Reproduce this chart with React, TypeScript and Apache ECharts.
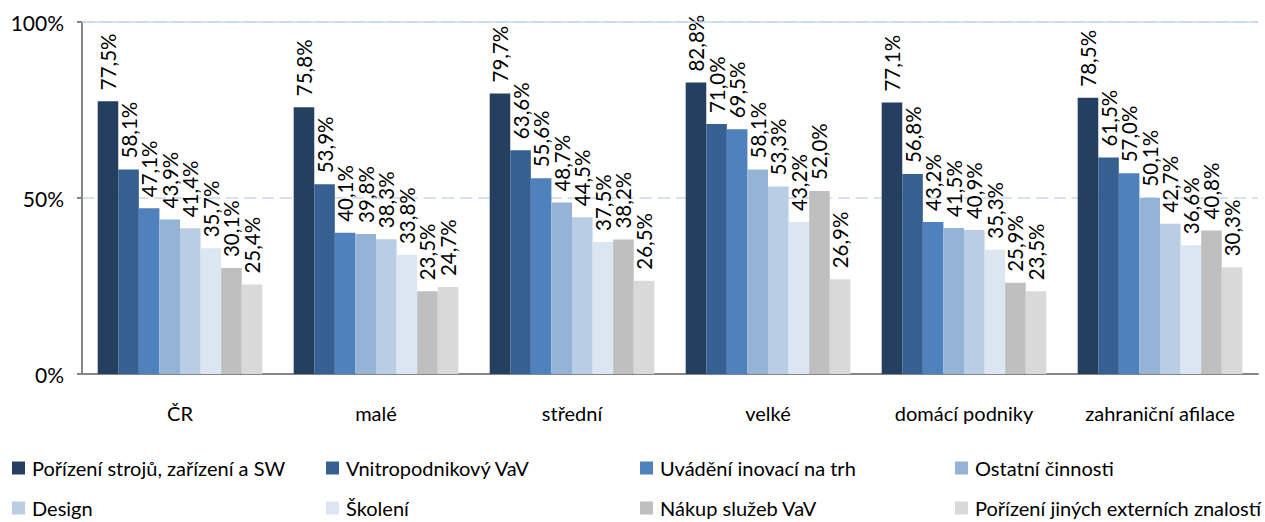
import React, { useEffect, useRef } from "react";
import * as echarts from "echarts";

const categories = ["ČR", "malé", "střední", "velké", "domácí podniky", "zahraniční afilace"];
const seriesNames = [
  "Pořízení strojů, zařízení a SW",
  "Vnitropodnikový VaV",
  "Uvádění inovací na trh",
  "Ostatní činnosti",
  "Design",
  "Školení",
  "Nákup služeb VaV",
  "Pořízení jiných externích znalostí",
];
const colors = ["#243f60", "#376092", "#4f81bd", "#95b3d7", "#b9cde5", "#dce6f2", "#bfbfbf", "#d9d9d9"];

const porizeniStroju = [77.5, 75.8, 79.7, 82.8, 77.1, 78.5];
const vnitropodnikovyVaV = [58.1, 53.9, 63.6, 71.0, 56.8, 61.5];
const uvadeniInovaci = [47.1, 40.1, 55.6, 69.5, 43.2, 57.0];
const ostatniCinnosti = [43.9, 39.8, 48.7, 58.1, 41.5, 50.1];
const design = [41.4, 38.3, 44.5, 53.3, 40.9, 42.7];
const skoleni = [35.7, 33.8, 37.5, 43.2, 35.3, 36.6];
const nakupSluzebVaV = [30.1, 23.5, 38.2, 52.0, 25.9, 40.8];
const porizeniZnalosti = [25.4, 24.7, 26.5, 26.9, 23.5, 30.3];

const seriesData = [
  porizeniStroju,
  vnitropodnikovyVaV,
  uvadeniInovaci,
  ostatniCinnosti,
  design,
  skoleni,
  nakupSluzebVaV,
  porizeniZnalosti,
];

const yTicks = [0, 50, 100];

const FONT = "Lato, 'Open Sans', sans-serif";

export default function App() {
  const ref = useRef<HTMLDivElement>(null);
  useEffect(() => {
    if (!ref.current) return;
    const chart = echarts.init(ref.current, undefined, { renderer: "svg" });
    const legendLefts = [12, 326, 640, 955];
    const legendTops = [457, 497];
    const legends = seriesNames.map((name, i) => ({
      data: [name],
      left: legendLefts[i % 4],
      top: legendTops[Math.floor(i / 4)],
      icon: "rect",
      itemWidth: 13,
      itemHeight: 13,
      padding: 0,
      textStyle: { fontFamily: FONT, fontSize: 20, lineHeight: 22, color: "#000", padding: [0, 0, 0, 2] },
      selectedMode: false,
    }));
    chart.setOption({
      animation: false,
      color: colors,
      textStyle: { fontFamily: FONT },
      grid: { left: 82, right: 7, top: 22, bottom: 148, containLabel: false },
      legend: legends,
      xAxis: {
        type: "category",
        data: categories,
        axisLine: { lineStyle: { color: "#868686", width: 2 } },
        axisTick: { show: false },
        axisLabel: { fontSize: 20, color: "#000", margin: 29, fontFamily: FONT },
      },
      yAxis: {
        type: "value",
        min: yTicks[0],
        max: yTicks[yTicks.length - 1],
        interval: 50,
        axisLine: { show: true, lineStyle: { color: "#868686", width: 2 } },
        axisTick: { show: true, length: 5, lineStyle: { color: "#868686", width: 2 } },
        axisLabel: { formatter: "{value}%", fontSize: 21, color: "#000", margin: 18, fontFamily: FONT },
        splitLine: { show: true, lineStyle: { color: "#c6d9f1", type: [12, 6], width: 1.5 } },
      },
      series: seriesData.map((d, i) => ({
        name: seriesNames[i],
        type: "bar",
        data: d,
        barGap: "0%",
        barCategoryGap: "16%",
        itemStyle: { color: colors[i] },
        label: {
          show: true,
          position: "top",
          rotate: 90,
          align: "left",
          verticalAlign: "middle",
          distance: 11,
          fontSize: 20.5,
          color: "#000",
          fontFamily: FONT,
          formatter: (p: any) => p.value.toFixed(1).replace(".", ",") + "%",
        },
        markLine:
          i === 0
            ? {
                silent: true,
                symbol: "none",
                label: { show: false },
                lineStyle: { color: "#c6d9f1", type: "solid", width: 1.5 },
                data: [{ yAxis: 100 }],
              }
            : undefined,
      })),
    });
    return () => chart.dispose();
  }, []);
  return (
    <div
      ref={ref}
      style={{ position: "fixed", left: 0, top: 0, width: 1265, height: 522, background: "#fff" }}
    />
  );
}
